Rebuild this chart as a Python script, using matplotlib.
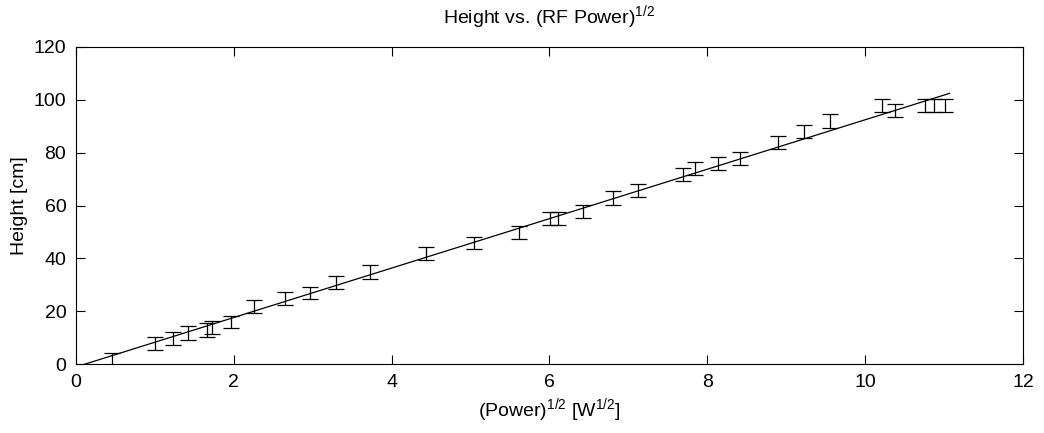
import matplotlib
matplotlib.use("Agg")
import matplotlib.pyplot as plt
import numpy as np

# sqrt(RF power) [W^1/2], measured height [cm] and its uncertainty
sqrt_power = [0.46, 1.00, 1.23, 1.42, 1.66, 1.72, 1.96, 2.26, 2.65, 2.96,
              3.30, 3.73, 4.44, 5.04, 5.61, 6.01, 6.11, 6.43, 6.81, 7.12,
              7.69, 7.85, 8.14, 8.42, 8.90, 9.22, 9.55, 10.21, 10.38, 10.76,
              10.87, 11.01]
height = [1.0, 7.8, 9.8, 11.8, 12.9, 13.9, 15.9, 21.9, 24.9, 26.9,
          30.9, 34.9, 41.9, 45.8, 49.8, 55.0, 55.0, 57.9, 63.0, 65.8,
          71.9, 73.9, 75.9, 77.9, 84.0, 88.1, 92.0, 97.9, 96.0, 97.9,
          97.9, 97.9]
height_err = [3.3, 2.5, 2.5, 2.5, 2.5, 2.5, 2.4, 2.4, 2.5, 2.4,
              2.5, 2.5, 2.5, 2.4, 2.5, 2.5, 2.5, 2.5, 2.6, 2.5,
              2.5, 2.5, 2.5, 2.5, 2.5, 2.5, 2.5, 2.4, 2.4, 2.4,
              2.4, 2.4]

# linear fit drawn over this range
fit_slope = 9.35
fit_intercept = -1.05
fit_range = [0.11, 11.07]

font = ["Liberation Sans Narrow", "Liberation Sans", "DejaVu Sans"]
plt.rcParams["font.family"] = font
plt.rcParams["mathtext.fontset"] = "custom"
plt.rcParams["mathtext.rm"] = "Liberation Sans"
plt.rcParams["mathtext.it"] = "Liberation Sans"
plt.rcParams["mathtext.default"] = "regular"

fig = plt.figure(figsize=(10.44, 4.33), dpi=100)
ax = fig.add_axes([0.0728, 0.159, 0.907, 0.7325])

ax.errorbar(sqrt_power, height, yerr=height_err, fmt="none",
            ecolor="black", elinewidth=0.9, capsize=6, capthick=0.9)

fx = np.array(fit_range)
ax.plot(fx, fit_slope * fx + fit_intercept, color="black", lw=0.9)

ax.set_xlim(0, 12)
ax.set_ylim(0, 120)
ax.set_xticks(range(0, 13, 2))
ax.set_yticks(range(0, 121, 20))
ax.tick_params(direction="in", top=True, right=True, length=6.5, width=0.8,
               labelsize=14, pad=7)
for s in ax.spines.values():
    s.set_linewidth(0.8)

ax.set_xlabel(r"(Power)$^{1/2}$ [W$^{1/2}$]", fontsize=14, labelpad=4)
ax.set_ylabel("Height [cm]", fontsize=14, labelpad=4)
ax.set_title(r"Height vs. (RF Power)$^{1/2}$", fontsize=14, pad=17)

fig.savefig("out.png", dpi=100)
